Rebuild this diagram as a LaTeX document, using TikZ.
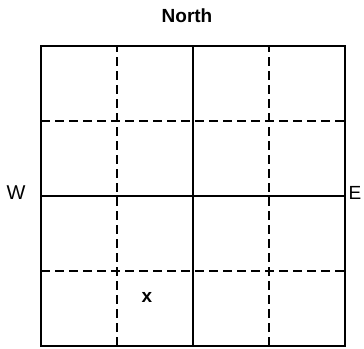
\documentclass[tikz,border=0pt]{standalone}
\usepackage{fontspec}
\setmainfont{Liberation Sans}
\usepackage{tikz}

\begin{document}
\begin{tikzpicture}[x=1pt,y=1pt]
	\useasboundingbox (0,0) rectangle (364,348);
	\begin{scope} [line width = 1.8pt]
    \draw[draw = black] (41,2) rectangle (345,302);
    \draw[draw = black] (193,2) -- (193,302);
    \draw[draw = black] (41,152) -- (345,152);
%% dashed quarter lines
    \draw[draw = black, dash pattern = on 9pt off 5pt] (117,2) -- (117,302);
    \draw[draw = black, dash pattern = on 9pt off 5pt] (269,2) -- (269,302);
    \draw[draw = black, dash pattern = on 9pt off 5pt] (41,227) -- (345,227);
    \draw[draw = black, dash pattern = on 9pt off 5pt] (41,77) -- (345,77);
    \node (north) at (187,332) {\fontsize{19}{23}\selectfont\textbf{North}};
    \node (west) at (16,155) {\fontsize{20}{24}\selectfont W};
    \node[inner sep = 0pt] (east) at (355,155) {\fontsize{19}{23}\selectfont E};
    \node (spot) at (147,51) {\fontsize{19}{23}\selectfont\textbf{x}};
    \end{scope}
\end{tikzpicture}
\end{document}
